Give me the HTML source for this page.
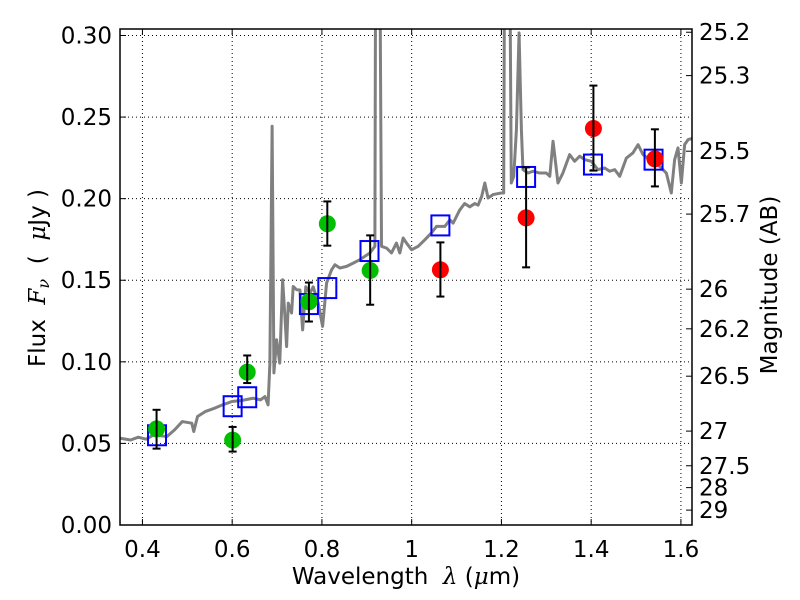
<!DOCTYPE html>
<html><head><meta charset="utf-8"><style>
body{margin:0;background:#fff;}
svg{display:block;font-family:"DejaVu Sans","Liberation Sans",sans-serif;}
</style></head><body>
<svg id="chart" width="800" height="600" viewBox="0 0 800 600" xmlns="http://www.w3.org/2000/svg"></svg>
<script>
// ---- data ----
const specLam = [0.35,0.3736,0.3907,0.408,0.4248,0.4547,0.4716,0.4888,0.51,0.5144,0.5228,0.5398,0.561,0.5783,0.5994,0.6208,0.6463,0.6634,0.673,0.680,0.684,0.689,0.693,0.699,0.706,0.7124,0.7175,0.7213,0.725,0.7324,0.736,0.7435,0.751,0.757,0.764,0.773,0.7805,0.7917,0.8015,0.8104,0.8215,0.829,0.84,0.855,0.8697,0.8845,0.9068,0.918,0.921,0.923,0.926,0.9328,0.944,0.955,0.966,0.9736,0.981,0.9885,0.9997,1.0145,1.0293,1.044,1.0553,1.0738,1.085,1.0924,1.107,1.118,1.1295,1.1407,1.148,1.156,1.163,1.1703,1.1814,1.2,1.205,1.209,1.215,1.222,1.2275,1.2334,1.2393,1.2445,1.248,1.259,1.2705,1.285,1.30,1.3077,1.315,1.326,1.337,1.352,1.363,1.3745,1.3857,1.4005,1.415,1.43,1.4413,1.4525,1.4636,1.4785,1.493,1.5045,1.5155,1.5304,1.5527,1.5675,1.5786,1.586,1.5935,1.601,1.6083,1.616,1.627];
const specFlux = [0.0532,0.0521,0.0538,0.0526,0.0552,0.0542,0.0583,0.0634,0.0624,0.0573,0.0665,0.0695,0.0716,0.0736,0.0757,0.0763,0.0777,0.0767,0.0787,0.0736,0.099,0.2444,0.0932,0.1135,0.0992,0.1503,0.1278,0.1094,0.136,0.1299,0.1462,0.1442,0.144,0.1196,0.146,0.142,0.146,0.136,0.1217,0.1483,0.1564,0.1595,0.1575,0.1585,0.1605,0.1626,0.1667,0.1708,0.5,0.5,0.5,0.1708,0.1697,0.1667,0.1728,0.1667,0.1759,0.1728,0.1687,0.1708,0.1748,0.179,0.183,0.183,0.187,0.185,0.193,0.197,0.195,0.197,0.196,0.2014,0.2096,0.2004,0.2025,0.2035,0.2035,0.5,0.5,0.2096,0.2137,0.2423,0.3016,0.2423,0.2178,0.2157,0.2168,0.2157,0.2157,0.2137,0.2352,0.2096,0.2157,0.227,0.2229,0.226,0.2239,0.2229,0.2178,0.2188,0.2168,0.2178,0.2137,0.2249,0.228,0.2331,0.227,0.2239,0.2198,0.2157,0.2035,0.2239,0.2311,0.2096,0.2331,0.2362,0.237];
const greenLam = [0.4315,0.601,0.6335,0.771,0.812,0.9075];
const greenFlux = [0.0589,0.052,0.0937,0.1368,0.1846,0.156];
const greenErrHi = [0.0706,0.0601,0.1039,0.1486,0.1983,0.1775];
const greenErrLo = [0.0468,0.045,0.087,0.1247,0.1712,0.135];
const redLam = [1.064,1.255,1.405,1.542];
const redFlux = [0.1564,0.1882,0.243,0.2244];
const redErrHi = [0.1732,0.2192,0.2693,0.2425];
const redErrLo = [0.140,0.1579,0.2172,0.2075];
const modelLam = [0.4325,0.601,0.6335,0.771,0.812,0.906,1.064,1.255,1.404,1.539];
const modelFlux = [0.055,0.0728,0.0783,0.1354,0.1452,0.1679,0.1836,0.2133,0.2209,0.2239];
const xTicks = [0.4,0.6,0.8,1.0,1.2,1.4,1.6];
const xTickLabels = ["0.4","0.6","0.8","1","1.2","1.4","1.6"];
const yTicks = [0,0.05,0.1,0.15,0.2,0.25,0.3];
const yTickLabels = ["0.00","0.05","0.10","0.15","0.20","0.25","0.30"];
const magTicks = [25.2,25.3,25.5,25.7,26,26.2,26.5,27,27.5,28,29];
const magTickLabels = ["25.2","25.3","25.5","25.7","26","26.2","26.5","27","27.5","28","29"];

// ---- axes ----
const L=120,R=692,T=29,B=525;
const xMin=0.35,xMax=1.6247,yMax=(B-T)/1631.7;
const X=v=>L+(v-xMin)/(xMax-xMin)*(R-L);
const Y=v=>B-v/yMax*(B-T);
const svg=document.getElementById('chart');
const NS='http://www.w3.org/2000/svg';
const FS=23;
function mk(tag,attrs,parent){const e=document.createElementNS(NS,tag);for(const k in attrs)e.setAttribute(k,attrs[k]);(parent||svg).appendChild(e);return e;}

const defs=mk('defs',{});
const cp=mk('clipPath',{id:'clip'},defs);
mk('rect',{x:L,y:T,width:R-L,height:B-T},cp);

// grid
const grid=mk('g',{});


xTicks.forEach(v=>{mk('line',{x1:X(v),x2:X(v),y1:T,y2:B,stroke:'#000','stroke-width':1,'stroke-dasharray':'1,3'},grid);});
yTicks.forEach(v=>{mk('line',{x1:L,x2:R,y1:Y(v),y2:Y(v),stroke:'#000','stroke-width':1,'stroke-dasharray':'1,3'},grid);});

// spectrum
const plot=mk('g',{'clip-path':'url(#clip)'});
const sp=mk('polyline',{points:specLam.map((l,i)=>X(l)+','+Y(specFlux[i])).join(' '),fill:'none',stroke:'#808080','stroke-width':3,'stroke-linejoin':'round'},plot);



// model squares
modelLam.forEach((l,i)=>{
  const r=mk('rect',{x:X(l)-9,y:Y(modelFlux[i])-10,width:18,height:20,fill:'none',stroke:'#0000ff','stroke-width':2},plot);
  
  
});

function pts(lam,flux,hi,lo,color,name){
  lam.forEach((l,i)=>{
    const g=mk('g',{},plot);
    
    
    mk('ellipse',{cx:X(l),cy:Y(flux[i]),rx:8.5,ry:8.5,fill:color},g);
    const x=X(l);
    mk('line',{x1:x,x2:x,y1:Y(hi[i]),y2:Y(lo[i]),stroke:'#000','stroke-width':2},g);
    mk('line',{x1:x-4,x2:x+4,y1:Y(hi[i]),y2:Y(hi[i]),stroke:'#000','stroke-width':2},g);
    mk('line',{x1:x-4,x2:x+4,y1:Y(lo[i]),y2:Y(lo[i]),stroke:'#000','stroke-width':2},g);
  });
}
pts(greenLam,greenFlux,greenErrHi,greenErrLo,'#00bf00','green-data-point');
pts(redLam,redFlux,redErrHi,redErrLo,'#ff0000','red-data-point');

// frame
const fr=mk('rect',{x:L,y:T,width:R-L,height:B-T,fill:'none',stroke:'#000','stroke-width':1.5});



// ticks + labels
xTicks.forEach((v,i)=>{
  const x=X(v);
  mk('line',{x1:x,x2:x,y1:B,y2:B-6,stroke:'#000'});
  mk('line',{x1:x,x2:x,y1:T,y2:T+6,stroke:'#000'});
  const t=mk('text',{x:x,y:557,'text-anchor':'middle','font-size':FS,fill:'#000'});
  t.textContent=xTickLabels[i];
  
  
});
yTicks.forEach((v,i)=>{
  const y=Y(v);
  mk('line',{x1:L,x2:L+6,y1:y,y2:y,stroke:'#000'});
  const t=mk('text',{x:112,y:y+8,'text-anchor':'end','font-size':FS,fill:'#000'});
  t.textContent=yTickLabels[i];
  
  
});
magTicks.forEach((m,i)=>{
  const f=Math.pow(10,(23.9-m)/2.5);
  const y=Y(f);
  mk('line',{x1:R,x2:R-6,y1:y,y2:y,stroke:'#000'});
  const t=mk('text',{x:699,y:y+8,'font-size':FS,fill:'#000'});
  t.textContent=magTickLabels[i];
  
  
});
</script>
<svg style="position:absolute;left:0;top:0" width="800" height="600">
  <text x="406" y="584" text-anchor="middle" font-size="23" font-family="DejaVu Sans, Liberation Sans, sans-serif">Wavelength&#160;&#160;<tspan font-style="italic" font-family="DejaVu Serif, serif">λ</tspan>&#160;(<tspan font-style="italic" font-family="DejaVu Serif, serif">μ</tspan>m)</text>
  <text transform="translate(45,278) rotate(-90)" text-anchor="middle" font-size="23" font-family="DejaVu Sans, Liberation Sans, sans-serif">Flux&#160;&#160;<tspan font-style="italic" font-family="DejaVu Serif, serif">F</tspan><tspan font-style="italic" font-family="DejaVu Serif, serif" font-size="16" dy="4">ν</tspan><tspan dy="-4">&#160;&#160;(&#160;&#160;</tspan><tspan font-style="italic" font-family="DejaVu Serif, serif">μ</tspan>Jy&#160;)</text>
  <text transform="translate(777,285) rotate(-90)" text-anchor="middle" font-size="23" font-family="DejaVu Sans, Liberation Sans, sans-serif">Magnitude (AB)</text>
</svg>
</body></html>
